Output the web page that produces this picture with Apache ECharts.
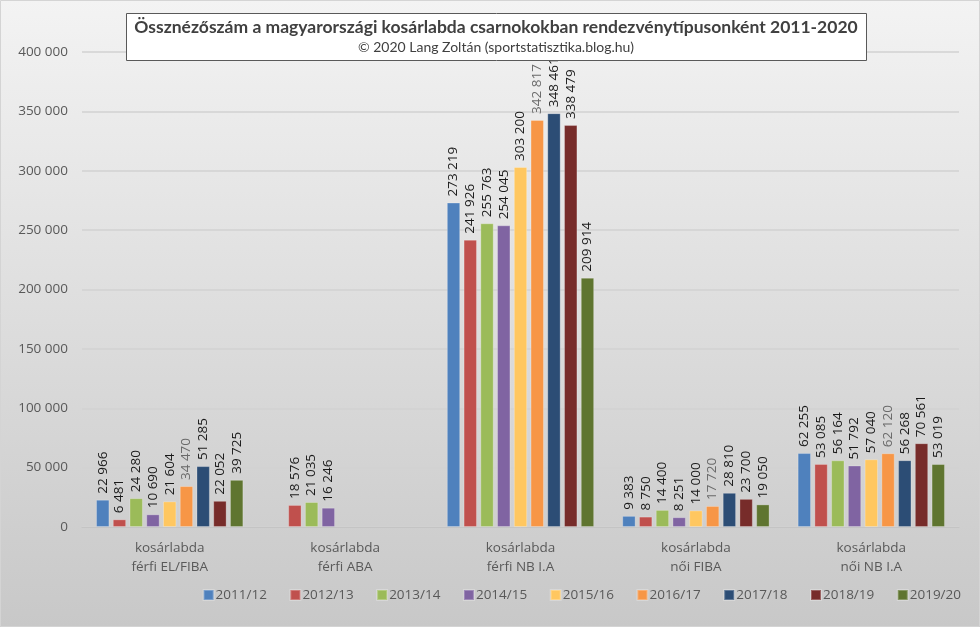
<!DOCTYPE html>
<html>
<head>
<meta charset="utf-8">
<script src="https://cdn.jsdelivr.net/npm/echarts@6/dist/echarts.min.js"></script>
<style>html,body{margin:0;padding:0;}#c{width:980px;height:627px;}</style>
</head>
<body>
<div id="c"></div>
<script>
const titleText = 'Össznézőszám a magyarországi kosárlabda csarnokokban rendezvénytípusonként 2011-2020';
const subtitleText = '© 2020 Lang Zoltán (sportstatisztika.blog.hu)';
const categories = ['kosárlabda\nférfi EL/FIBA', 'kosárlabda\nférfi ABA', 'kosárlabda\nférfi NB I.A', 'kosárlabda\nnői FIBA', 'kosárlabda\nnői NB I.A'];
const seasons = ['2011/12', '2012/13', '2013/14', '2014/15', '2015/16', '2016/17', '2017/18', '2018/19', '2019/20'];
const s2011 = [22966, null, 273219, 9383, 62255];
const s2012 = [6481, 18576, 241926, 8750, 53085];
const s2013 = [24280, 21035, 255763, 14400, 56164];
const s2014 = [10690, 16246, 254045, 8251, 51792];
const s2015 = [21604, null, 303200, 14000, 57040];
const s2016 = [34470, null, 342817, 17720, 62120];
const s2017 = [51285, null, 348461, 28810, 56268];
const s2018 = [22052, null, 338479, 23700, 70561];
const s2019 = [39725, null, 209914, 19050, 53019];
const seriesValues = [s2011, s2012, s2013, s2014, s2015, s2016, s2017, s2018, s2019];
const colors = ['#4F81BD', '#C0504D', '#9BBB59', '#8064A2', '#FFC760', '#F79646', '#2C4D75', '#772C2A', '#5F7530'];
const labelColors = ['#1a1a1a', '#1a1a1a', '#1a1a1a', '#1a1a1a', '#1a1a1a', '#6a6a6a', '#1a1a1a', '#1a1a1a', '#1a1a1a'];
const yTicks = {min: 0, max: 400000, interval: 50000};

function fmt(v) { return String(v).replace(/\B(?=(\d{3})+(?!\d))/g, ' '); }

const chart = echarts.init(document.getElementById('c'));
const series = seasons.map((name, i) => ({
  name: name,
  type: 'bar',
  data: seriesValues[i],
  barGap: '25%',
  barCategoryGap: '16%',
  itemStyle: { color: colors[i], borderColor: 'rgba(255,255,255,0.25)', borderWidth: 1 },
  label: {
    show: true,
    position: 'top',
    rotate: 90,
    align: 'left',
    verticalAlign: 'middle',
    distance: 6,
    fontFamily: 'Open Sans',
    fontSize: 13.5,
    color: labelColors[i],
    formatter: p => (p.value == null ? '' : fmt(p.value))
  }
}));

chart.setOption({
  backgroundColor: {
    type: 'linear', x: 0, y: 0, x2: 0, y2: 1,
    colorStops: [{offset: 0, color: '#f3f3f3'}, {offset: 1, color: '#c8c8c8'}]
  },
  color: colors,
  animation: false,
  graphic: [
    { type: 'rect', shape: {x: 0.5, y: 0.5, width: 979, height: 626}, style: {fill: 'none', stroke: '#d4d4d4', lineWidth: 1}, z: 100 },
    { type: 'rect', shape: {x: 126.5, y: 13.5, width: 740, height: 47}, style: {fill: '#ffffff', stroke: '#595959', lineWidth: 1}, z: 50 },
    { type: 'text', x: 496, y: 18, style: {text: titleText, fontFamily: 'Lato', fontWeight: 'bold', fontSize: 17.5, fill: '#404040', align: 'center', verticalAlign: 'top'}, z: 51 },
    { type: 'text', x: 496, y: 40, style: {text: subtitleText, fontFamily: 'Lato', fontSize: 14, fill: '#404040', align: 'center', verticalAlign: 'top'}, z: 51 }
  ],
  grid: { left: 82, right: 21, top: 52, bottom: 100, containLabel: false },
  legend: {
    data: seasons,
    right: 14,
    bottom: 20,
    itemWidth: 10,
    itemHeight: 10,
    itemGap: 22.5,
    icon: 'rect',
    textStyle: { fontFamily: 'Open Sans', fontSize: 13.5, color: '#595959', padding: [0, 0, 0, -3] }
  },
  xAxis: {
    type: 'category',
    data: categories,
    axisTick: { show: false },
    axisLine: { lineStyle: { color: '#c4c4c4', width: 1 } },
    axisLabel: { fontFamily: 'Open Sans', fontSize: 13.5, color: '#595959', margin: 12, lineHeight: 19, interval: 0 }
  },
  yAxis: {
    type: 'value',
    min: yTicks.min,
    max: yTicks.max,
    interval: yTicks.interval,
    axisLabel: { fontFamily: 'Open Sans', fontSize: 13.5, color: '#595959', margin: 14, formatter: v => fmt(v) },
    splitLine: { lineStyle: { color: '#d2d2d2', width: 1.5 } },
    axisLine: { show: false },
    axisTick: { show: false }
  },
  series: series
});
</script>
</body>
</html>
